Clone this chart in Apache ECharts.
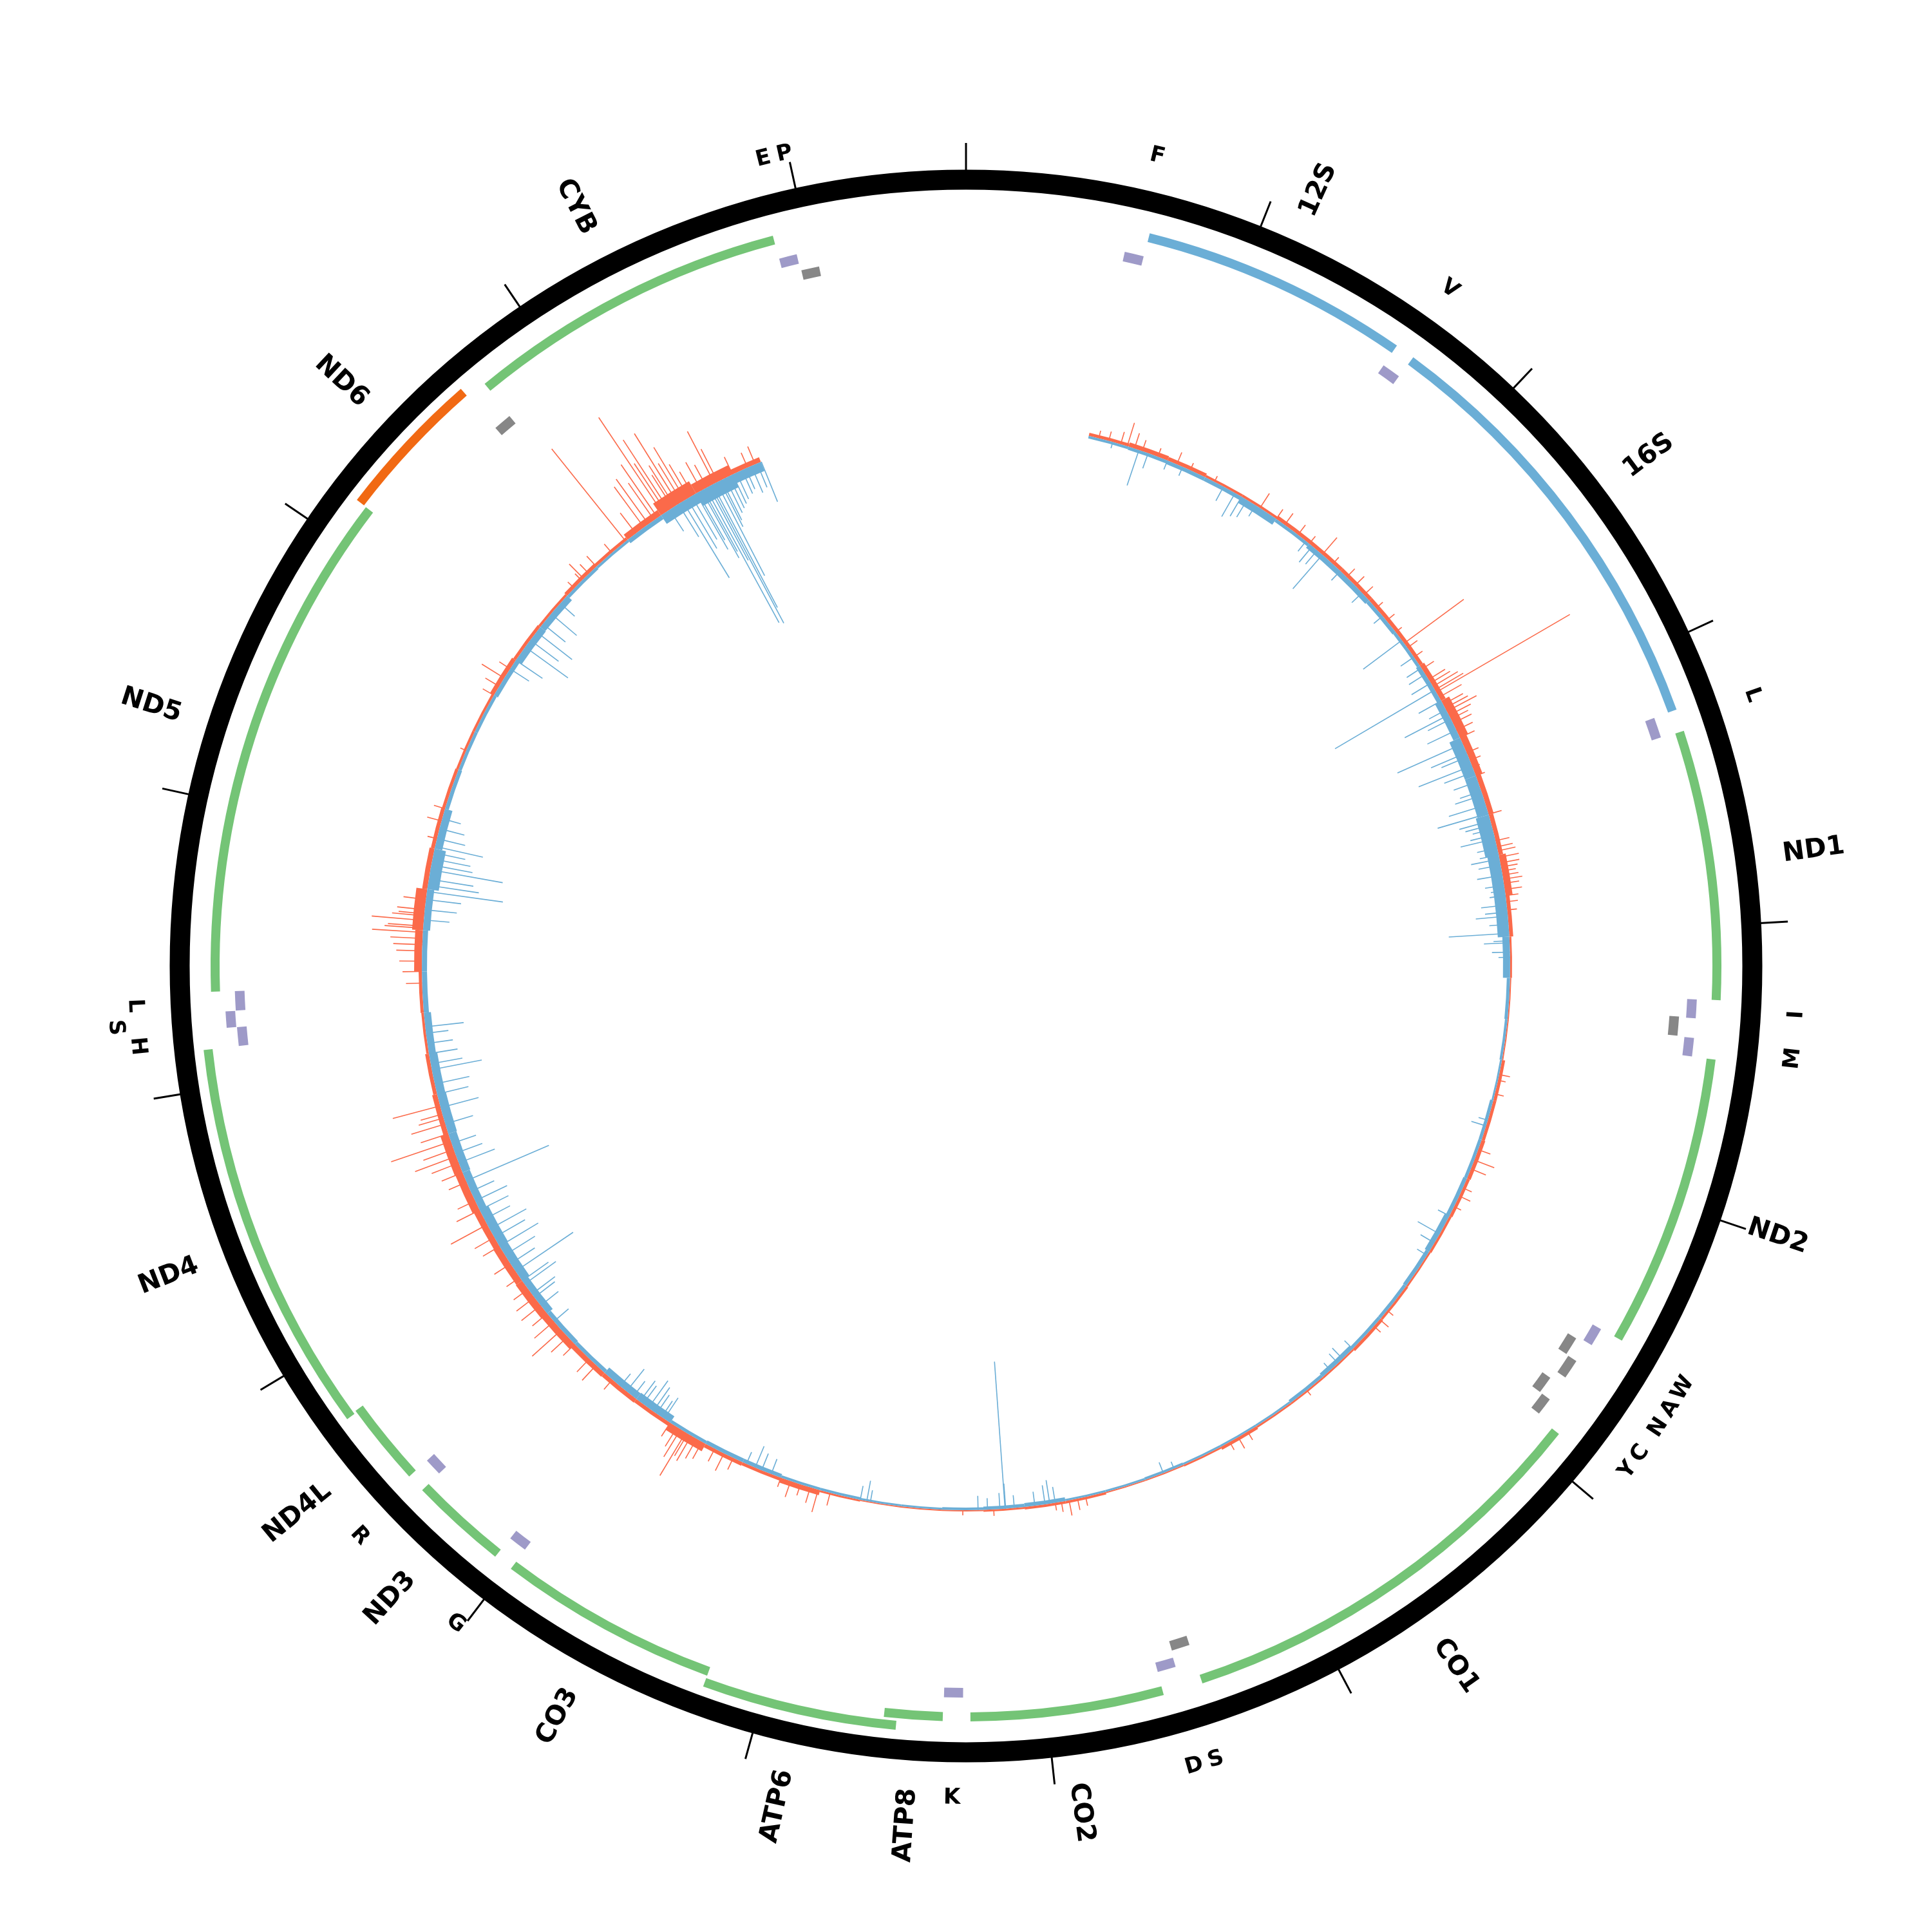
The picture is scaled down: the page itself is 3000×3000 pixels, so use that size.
<!DOCTYPE html>
<html>
<head>
<meta charset="utf-8">
<script src="https://cdn.jsdelivr.net/npm/echarts@6/dist/echarts.min.js"></script>
<style>
html, body { margin: 0; padding: 0; background: #fff; }
#chart { width: 3000px; height: 3000px; }
</style>
</head>
<body>
<div id="chart"></div>
<script>
const genomeLength = 16569;

// genes (protein coding + rRNA)
const geneNames = ['12S', '16S', 'ND1', 'ND2', 'CO1', 'CO2', 'ATP8', 'ATP6', 'CO3', 'ND3', 'ND4L', 'ND4', 'ND5', 'ND6', 'CYB'];
const geneStart = [648, 1671, 3307, 4470, 5904, 7586, 8366, 8527, 9207, 10059, 10470, 10760, 12337, 14149, 14747];
const geneEnd = [1601, 3229, 4262, 5511, 7445, 8269, 8572, 9207, 9990, 10404, 10766, 12137, 14148, 14673, 15887];
const geneKind = ['rRNA', 'rRNA', 'H', 'H', 'H', 'H', 'H', 'H', 'H', 'H', 'H', 'H', 'H', 'L', 'H'];
const geneRow = [0, 0, 0, 0, 0, 0, 0, 1, 0, 0, 0, 1, 0, 1, 0];

// tRNAs
const trnaNames = ['F', 'V', 'L1', 'I', 'Q', 'M', 'W', 'A', 'N', 'C', 'Y', 'S1', 'D', 'K', 'G', 'R', 'H', 'S2', 'L2', 'E', 'T', 'P'];
const trnaStart = [577, 1602, 3230, 4263, 4329, 4402, 5512, 5587, 5657, 5761, 5826, 7446, 7518, 8295, 9991, 10405, 12138, 12207, 12266, 14674, 15888, 15956];
const trnaEnd = [647, 1670, 3304, 4331, 4400, 4469, 5579, 5655, 5729, 5826, 5891, 7514, 7585, 8364, 10058, 10469, 12206, 12265, 12336, 14742, 15953, 16023];
const trnaStrand = ['H', 'H', 'H', 'H', 'L', 'H', 'H', 'L', 'L', 'L', 'L', 'L', 'H', 'H', 'H', 'H', 'H', 'H', 'H', 'L', 'H', 'L'];
const trnaRow = [0, 0, 0, 0, 0, 0, 0, 0, 1, 0, 1, 0, 0, 0, 0, 0, 0, 1, 0, 0, 0, 0];
const trnaLabel = ['F', 'V', 'L', 'I', '', 'M', 'W', 'A', 'N', 'C', 'Y', 'S', 'D', 'K', 'G', 'R', 'H', 'S', 'L', '', 'E', 'P'];

// coverage, 200 bp bins from 600 to 15550 (plus strand outward, minus strand inward)
const covStart = 600;
const covEnd = 15550;
const covBin = 200;
const plusDepth = [5, 7, 6, 4, 4, 6, 6, 6, 6, 6, 8, 14, 11, 8, 7, 11, 6, 3, 2, 2,
  5, 5, 6, 5, 4, 3, 4, 5, 3, 3, 3, 5, 3, 2, 2, 4, 4, 3, 2, 2,
  2, 3, 8, 5, 6, 13, 6, 7, 8, 11, 12, 11, 10, 12, 13, 8, 6, 4, 5, 12,
  17, 8, 6, 5, 4, 4, 7, 5, 4, 6, 5, 10, 22, 16, 8];
const minusDepth = [4, 5, 6, 6, 11, 5, 8, 8, 6, 5, 7, 11, 18, 18, 21, 18, 18, 11, 5, 4,
  3, 5, 5, 6, 8, 6, 5, 5, 7, 5, 3, 3, 3, 4, 3, 3, 6, 5, 4, 3,
  3, 4, 4, 6, 6, 5, 12, 11, 6, 7, 11, 14, 15, 12, 13, 14, 13, 11, 8, 8,
  11, 18, 12, 6, 5, 5, 7, 11, 10, 5, 4, 7, 16, 22, 15];
const plusSpikes = [[650, 12], [700, 15], [760, 20], [793, 38], [830, 25], [870, 18], [950, 14], [1049, 20],
  [1120, 12], [1250, 10], [1505, 27], [1600, 18], [1650, 22], [1730, 19], [1800, 15], [1882, 35], [1950, 14],
  [2043, 18], [2100, 20], [2163, 19], [2250, 14], [2329, 16], [2400, 12], [2468, 115], [2495, 19], [2550, 16],
  [2620, 22], [2680, 30], [2700, 35], [2720, 45], [2739, 51], [2752, 240], [2780, 40], [2820, 35], [2840, 40],
  [2858, 52], [2880, 38], [2900, 30], [2923, 32], [2960, 28], [3000, 25], [3080, 20], [3120, 18], [3156, 12],
  [3200, 15], [3397, 21], [3530, 22], [3560, 25], [3580, 28], [3612, 31], [3640, 30], [3660, 26], [3680, 22],
  [3700, 25], [3720, 30], [3740, 24], [3770, 27], [3800, 20], [3830, 18], [3870, 15], [4672, 17], [4700, 12],
  [4768, 14], [5050, 20], [5104, 33], [5150, 25], [5250, 15], [5293, 19], [5350, 12], [5950, 12], [6007, 18],
  [6050, 14], [6500, 10], [6850, 15], [6903, 20], [6950, 14], [7700, 14], [7740, 18], [7782, 24], [7820, 16],
  [7850, 12], [8150, 10], [8300, 8], [8950, 20], [9010, 36], [9050, 25], [9100, 18], [9150, 26], [9200, 15],
  [9450, 20], [9500, 30], [9550, 22], [9620, 30], [9650, 35], [9680, 45], [9700, 40], [9711, 78], [9740, 50],
  [9760, 35], [9800, 25], [10150, 20], [10255, 32], [10300, 28], [10400, 25], [10450, 35], [10495, 61],
  [10550, 40], [10600, 30], [10651, 38], [10700, 35], [10750, 28], [10820, 25], [10900, 30], [11000, 30],
  [11050, 35], [11121, 64], [11200, 40], [11250, 30], [11350, 30], [11400, 35], [11450, 45], [11485, 68],
  [11520, 50], [11561, 98], [11600, 45], [11650, 55], [11680, 40], [11700, 35], [11741, 76], [12344, 25],
  [12400, 30], [12450, 35], [12500, 40], [12530, 45], [12560, 50], [12590, 79], [12610, 60], [12620, 55],
  [12648, 81], [12670, 50], [12680, 40], [12700, 43], [12750, 35], [13050, 15], [13138, 23], [13200, 18],
  [13500, 10], [13800, 20], [13850, 25], [13897, 41], [13950, 20], [14450, 14], [14502, 15], [14515, 32],
  [14550, 20], [14600, 22], [14700, 18], [14788, 184], [14850, 40], [14899, 78], [14926, 86], [14960, 70],
  [14980, 100], [15013, 180], [15030, 90], [15046, 130], [15068, 60], [15080, 75], [15100, 129], [15120, 70],
  [15140, 95], [15160, 60], [15184, 42], [15230, 50], [15260, 40], [15302, 91], [15320, 57], [15400, 30],
  [15480, 25], [15520, 30]];
const minusSpikes = [[720, 10], [853, 58], [900, 25], [1000, 15], [1080, 15], [1300, 25], [1364, 42], [1400, 35],
  [1431, 31], [1480, 20], [1780, 20], [1819, 32], [1850, 28], [1883, 70], [2000, 20], [2150, 22], [2300, 18],
  [2450, 75], [2550, 25], [2614, 27], [2650, 30], [2700, 35], [2739, 180], [2800, 40], [2850, 30], [2877, 77],
  [2900, 40], [2960, 50], [3033, 111], [3080, 60], [3100, 45], [3148, 89], [3180, 50], [3230, 40], [3280, 35],
  [3300, 45], [3350, 60], [3393, 82], [3430, 50], [3450, 42], [3471, 32], [3500, 38], [3520, 55], [3566, 32],
  [3600, 30], [3620, 45], [3650, 35], [3700, 40], [3750, 30], [3776, 22], [3800, 25], [3846, 40], [3880, 35],
  [3900, 50], [3940, 30], [3984, 94], [4020, 25], [4030, 40], [4075, 28], [4100, 18], [4900, 15], [4929, 24],
  [5400, 20], [5500, 39], [5550, 25], [5620, 18], [6200, 18], [6269, 23], [6300, 20], [6350, 15], [7250, 12],
  [7306, 18], [7850, 25], [7877, 37], [7900, 30], [7950, 22], [8050, 20], [8092, 39], [8095, 229], [8120, 25],
  [8180, 18], [8226, 22], [8750, 18], [8768, 32], [8800, 22], [9250, 25], [9300, 28], [9334, 36], [9380, 20],
  [9835, 39], [9850, 30], [9880, 35], [9900, 45], [9928, 52], [9960, 35], [9980, 40], [10020, 30], [10061, 44],
  [10100, 25], [10550, 30], [10650, 35], [10700, 40], [10720, 45], [10780, 60], [10800, 50], [10856, 108],
  [10900, 45], [10950, 55], [11000, 70], [11050, 55], [11096, 65], [11150, 45], [11200, 50], [11250, 55],
  [11300, 40], [11356, 140], [11450, 60], [11500, 45], [11550, 40], [11650, 45], [11732, 61], [11800, 50],
  [11850, 55], [11921, 79], [11950, 50], [12000, 45], [12050, 40], [12100, 35], [12131, 60], [12650, 40],
  [12700, 50], [12750, 55], [12789, 119], [12820, 80], [12850, 70], [12896, 114], [12920, 65], [12950, 60],
  [12980, 50], [13011, 76], [13050, 45], [13100, 40], [13150, 30], [13950, 35], [14000, 50], [14079, 82],
  [14120, 55], [14170, 70], [14220, 45], [14283, 52], [14350, 30], [15050, 40], [15100, 60], [15125, 139],
  [15150, 90], [15175, 78], [15200, 100], [15210, 85], [15230, 120], [15240, 110], [15254, 238], [15270, 130],
  [15281, 242], [15292, 216], [15313, 163], [15330, 80], [15340, 70], [15360, 60], [15380, 55], [15400, 50],
  [15420, 45], [15450, 40], [15470, 35], [15500, 45], [15530, 40], [15552, 67]];

const ringR = 1221;
const covBase = 845;
const geneRowR = [[1159, 1173], [1177, 1191]];
const trnaRowR = { H: [[1121, 1136], [1137, 1152]], L: [[1095, 1110], [1114, 1129]] };
const geneLabelR = 1280;
const trnaLabelR = 1292;
const colors = { rRNA: '#6baed6', H: '#74c476', L: '#f16913', trnaH: '#9e9ac8', trnaL: '#878787', plus: '#fb6a4a', minus: '#6baed6' };
const font = 'DejaVu Sans';

const chart = echarts.init(document.getElementById('chart'));

function toAngle(cs, p) {
  return Math.atan2(p[1] - cs.cy, p[0] - cs.cx);
}

function sector(params, api, start, end, rIn, rOut, color) {
  const cs = params.coordSys;
  const a = api.coord([rOut, start]);
  const b = api.coord([rOut, end]);
  const c = api.coord([rIn, start]);
  const sa = toAngle(cs, a);
  let ea = toAngle(cs, b);
  if (ea < sa) ea += Math.PI * 2;
  return {
    type: 'sector',
    shape: {
      cx: cs.cx, cy: cs.cy,
      r0: Math.hypot(c[0] - cs.cx, c[1] - cs.cy),
      r: Math.hypot(a[0] - cs.cx, a[1] - cs.cy),
      startAngle: sa, endAngle: ea, clockwise: true
    },
    style: { fill: color }
  };
}

function clockAngle(cs, p) {
  let t = toAngle(cs, p) + Math.PI / 2;
  return (t + Math.PI * 4) % (Math.PI * 2);
}

const binData = plusDepth.map((v, i) => {
  const s = covStart + i * covBin;
  return [v, s, Math.min(s + covBin, covEnd), minusDepth[i]];
});

function spikeSeries(name, data, sign, color) {
  return {
    name: name,
    type: 'custom',
    coordinateSystem: 'polar',
    encode: { radius: 1, angle: 0 },
    data: data,
    renderItem: (params, api) => {
      const a = api.coord([covBase, api.value(0)]);
      const b = api.coord([covBase + sign * api.value(1), api.value(0)]);
      return { type: 'polyline', shape: { points: [a, b] }, style: { stroke: color, lineWidth: 1.6, fill: null } };
    }
  };
}

const updateChart = () => {
  const option = {
    animation: false,
    backgroundColor: '#fff',
    polar: { center: ['50%', '50%'], radius: ringR },
    radiusAxis: { type: 'value', min: 0, max: ringR, show: false },
    angleAxis: {
      type: 'value',
      min: 0,
      max: genomeLength,
      interval: 1000,
      startAngle: 90,
      clockwise: true,
      axisLine: { show: true, lineStyle: { color: '#000', width: 31 } },
      axisTick: { show: true, inside: false, length: 57, lineStyle: { color: '#000', width: 3 } },
      axisLabel: { show: false },
      splitLine: { show: false }
    },
    series: [
      spikeSeries('plus spikes', plusSpikes, 1, colors.plus),
      spikeSeries('minus spikes', minusSpikes, -1, colors.minus),
      {
        name: 'coverage bins',
        type: 'custom',
        coordinateSystem: 'polar',
        encode: { radius: 0, angle: 1 },
        data: binData,
        renderItem: (params, api) => {
          const s = api.value(1), e = api.value(2);
          return {
            type: 'group',
            children: [
              sector(params, api, s, e, covBase, covBase + api.value(0), colors.plus),
              sector(params, api, s, e, covBase - api.value(3), covBase, colors.minus)
            ]
          };
        }
      },
      {
        name: 'genes',
        type: 'custom',
        coordinateSystem: 'polar',
        encode: { radius: 0, angle: 1 },
        data: geneNames.map((n, i) => [geneRow[i], geneStart[i], geneEnd[i], i]),
        renderItem: (params, api) => {
          const i = api.value(3);
          const rr = geneRowR[geneRow[i]];
          return sector(params, api, api.value(1), api.value(2), rr[0], rr[1], colors[geneKind[i]]);
        }
      },
      {
        name: 'tRNA',
        type: 'custom',
        coordinateSystem: 'polar',
        encode: { radius: 0, angle: 1 },
        data: trnaNames.map((n, i) => [trnaRow[i], trnaStart[i], trnaEnd[i], i]),
        renderItem: (params, api) => {
          const i = api.value(3);
          const rr = trnaRowR[trnaStrand[i]][trnaRow[i]];
          const col = trnaStrand[i] === 'H' ? colors.trnaH : colors.trnaL;
          return sector(params, api, api.value(1), api.value(2), rr[0], rr[1], col);
        }
      },
      {
        name: 'gene labels',
        type: 'custom',
        coordinateSystem: 'polar',
        encode: { radius: 0, angle: 1 },
        data: geneNames.map((n, i) => [geneLabelR, (geneStart[i] + geneEnd[i]) / 2, i]),
        renderItem: (params, api) => {
          const i = api.value(2);
          const p = api.coord([api.value(0), api.value(1)]);
          const t = clockAngle(params.coordSys, p);
          const right = t < Math.PI;
          return {
            type: 'text',
            x: p[0], y: p[1],
            rotation: right ? Math.PI / 2 - t : Math.PI * 1.5 - t,
            style: {
              text: geneNames[i], fontSize: 41, fontWeight: 'bold', fontFamily: font, fill: '#000',
              align: right ? 'left' : 'right', verticalAlign: 'middle'
            }
          };
        }
      },
      {
        name: 'tRNA labels',
        type: 'custom',
        coordinateSystem: 'polar',
        encode: { radius: 0, angle: 1 },
        data: trnaLabel.map((t, i) => [trnaLabelR + (trnaStrand[i] === 'H' ? trnaRow[i] * 32 : 0), (trnaStart[i] + trnaEnd[i]) / 2, i])
          .filter(d => trnaLabel[d[2]] !== ''),
        renderItem: (params, api) => {
          const i = api.value(2);
          const p = api.coord([api.value(0), api.value(1)]);
          const t = clockAngle(params.coordSys, p);
          const bottom = t >= Math.PI / 2 && t < Math.PI * 1.5;
          return {
            type: 'text',
            x: p[0], y: p[1],
            rotation: bottom ? Math.PI - t : -t,
            style: {
              text: trnaLabel[i], fontSize: 34, fontWeight: 'bold', fontFamily: font, fill: '#000',
              align: 'center', verticalAlign: 'middle'
            }
          };
        }
      }
    ]
  };
  chart.setOption(option);
};

updateChart();
</script>
</body>
</html>
